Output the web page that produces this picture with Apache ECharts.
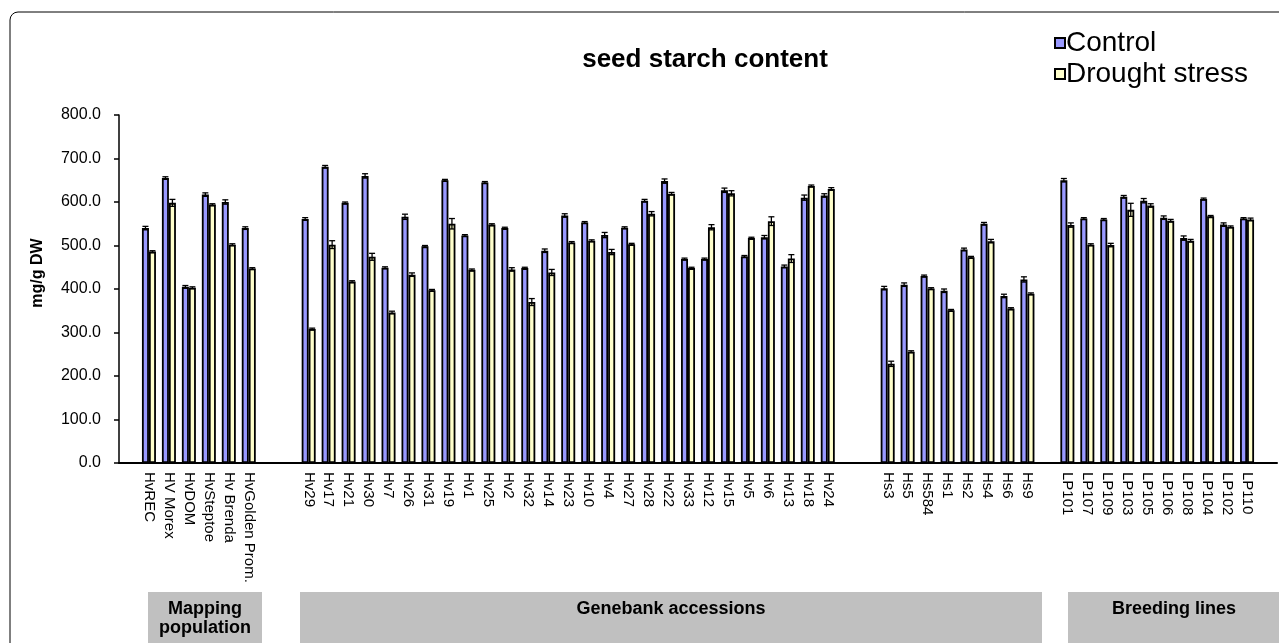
<!DOCTYPE html>
<html>
<head>
<meta charset="utf-8">
<script src="https://cdn.jsdelivr.net/npm/echarts@6/dist/echarts.min.js"></script>
<style>
  html, body { margin: 0; padding: 0; background: #fff; }
  #chart { width: 1279px; height: 643px; }
</style>
</head>
<body>
<div id="chart"></div>
<script>
// mapping population
const mapNames = ['HvREC', 'HV Morex', 'HvDOM', 'HvSteptoe', 'Hv Brenda', 'HvGolden Prom.'];
const mapCtrl = [540, 655, 405, 617, 600, 540];
const mapDrought = [486, 598, 403, 594, 502, 447];
const mapCtrlErr = [4, 3, 3, 4, 5, 3];
const mapDroughtErr = [2, 8, 2, 2, 2, 2];

// genebank accessions (H. vulgare)
const hvNames = ['Hv29', 'Hv17', 'Hv21', 'Hv30', 'Hv7', 'Hv26', 'Hv31', 'Hv19', 'Hv1', 'Hv25', 'Hv2', 'Hv32', 'Hv14', 'Hv23',
  'Hv10', 'Hv4', 'Hv27', 'Hv28', 'Hv22', 'Hv33', 'Hv12', 'Hv15', 'Hv5', 'Hv6', 'Hv13', 'Hv18', 'Hv24'];
const hvCtrl = [561, 681, 598, 660, 449, 566, 498, 650, 523, 645, 540, 448, 488, 569,
  553, 524, 541, 603, 648, 469, 469, 627, 475, 519, 452, 610, 615];
const hvDrought = [308, 502, 417, 474, 346, 433, 397, 550, 444, 548, 445, 370, 438, 507,
  511, 485, 503, 573, 619, 448, 542, 620, 517, 556, 470, 637, 630];
const hvCtrlErr = [3, 3, 2, 5, 2, 6, 2, 2, 2, 2, 2, 2, 4, 4, 2, 6, 2, 3, 5, 2, 2, 5, 2, 4, 3, 6, 4];
const hvDroughtErr = [2, 9, 2, 8, 3, 4, 2, 12, 2, 2, 4, 8, 7, 2, 2, 6, 2, 5, 3, 2, 6, 6, 2, 10, 9, 2, 3];

// genebank accessions (H. spontaneum)
const hsNames = ['Hs3', 'Hs5', 'Hs584', 'Hs1', 'Hs2', 'Hs4', 'Hs6', 'Hs9'];
const hsCtrl = [402, 410, 430, 396, 491, 550, 384, 422];
const hsDrought = [228, 256, 401, 351, 473, 510, 355, 389];
const hsCtrlErr = [4, 4, 2, 4, 3, 3, 4, 6];
const hsDroughtErr = [6, 2, 2, 2, 2, 4, 2, 2];

// breeding lines
const lpNames = ['LP101', 'LP107', 'LP109', 'LP103', 'LP105', 'LP106', 'LP108', 'LP104', 'LP102', 'LP110'];
const lpCtrl = [650, 562, 560, 612, 603, 564, 517, 607, 548, 562];
const lpDrought = [547, 502, 501, 582, 592, 557, 511, 567, 543, 560];
const lpCtrlErr = [4, 2, 2, 3, 5, 4, 5, 2, 4, 2];
const lpDroughtErr = [5, 2, 4, 15, 4, 3, 3, 2, 2, 3];

const yTicks = [0, 100, 200, 300, 400, 500, 600, 700, 800];

// empty categories make the gaps between the groups
const gap = (n) => new Array(n).fill(null);
const join = (a, b, c, d) => [null].concat(a, gap(2), b, gap(2), c, gap(1), d, gap(1));

const categories = join(mapNames, hvNames, hsNames, lpNames).map((v) => v || '');
const ctrl = join(mapCtrl, hvCtrl, hsCtrl, lpCtrl).map((v) => (v == null ? '-' : v));
const drought = join(mapDrought, hvDrought, hsDrought, lpDrought).map((v) => (v == null ? '-' : v));
const ctrlErr = join(mapCtrlErr, hvCtrlErr, hsCtrlErr, lpCtrlErr);
const droughtErr = join(mapDroughtErr, hvDroughtErr, hsDroughtErr, lpDroughtErr);

const errData = (vals, errs) => {
  const out = [];
  vals.forEach((v, i) => {
    if (v !== '-') out.push([i, v, errs[i]]);
  });
  return out;
};

const BAR_W = 7;
const errRender = (offset) => (params, api) => {
  const idx = api.value(0);
  const v = api.value(1);
  const e = api.value(2);
  const x = api.coord([idx, v])[0] + offset;
  const hi = api.coord([idx, v + e])[1];
  const lo = api.coord([idx, v - e])[1];
  const style = { stroke: '#000', lineWidth: 1.3 };
  return {
    type: 'group',
    children: [
      { type: 'line', shape: { x1: x, y1: hi, x2: x, y2: lo }, style },
      { type: 'line', shape: { x1: x - 3, y1: hi, x2: x + 3, y2: hi }, style },
      { type: 'line', shape: { x1: x - 3, y1: lo, x2: x + 3, y2: lo }, style }
    ]
  };
};

const boxFont = 'Liberation Sans Narrow, Liberation Sans, Arial';

const chart = echarts.init(document.getElementById('chart'));
const option = {
  animation: false,
  textStyle: { fontFamily: 'Liberation Sans, Arial, sans-serif', color: '#000' },
  title: {
    text: 'seed starch content',
    left: 700,
    textAlign: 'center',
    top: 42,
    textStyle: { fontSize: 26, fontWeight: 'bold', color: '#000' }
  },
  legend: {
    orient: 'vertical',
    left: 1049,
    top: 24,
    itemWidth: 10,
    itemHeight: 10,
    itemGap: 3,
    icon: 'rect',
    data: ['Control', 'Drought stress'],
    textStyle: { fontSize: 28, color: '#000', padding: [0, 0, 0, -4] }
  },
  grid: { left: 119, right: 2, top: 115, bottom: 180 },
  xAxis: {
    type: 'category',
    data: categories,
    axisLine: { lineStyle: { color: '#000', width: 2 } },
    axisTick: {
      length: 4,
      interval: 0,
      lineStyle: { color: '#000', width: 1.5 }
    },
    axisLabel: {
      interval: 0,
      rotate: -90,
      fontSize: 15,
      color: '#000',
      margin: 9
    }
  },
  yAxis: {
    type: 'value',
    min: yTicks[0],
    max: yTicks[yTicks.length - 1],
    interval: 100,
    axisLine: { show: true, lineStyle: { color: '#000', width: 1.5 } },
    axisTick: { show: true, length: 5, lineStyle: { color: '#000', width: 1.5 } },
    splitLine: { show: false },
    axisLabel: {
      fontSize: 16,
      color: '#000',
      margin: 18,
      formatter: (v) => v.toFixed(1)
    }
  },
  series: [
    {
      name: 'Control',
      type: 'bar',
      data: ctrl,
      barWidth: BAR_W,
      barGap: '0%',
      itemStyle: { color: '#9999FF', borderColor: '#000', borderWidth: 1.8 }
    },
    {
      name: 'Drought stress',
      type: 'bar',
      data: drought,
      barWidth: BAR_W,
      barGap: '0%',
      itemStyle: { color: '#FFFFCC', borderColor: '#000', borderWidth: 1.8 }
    },
    {
      type: 'custom',
      data: errData(ctrl, ctrlErr),
      renderItem: errRender(-BAR_W / 2),
      silent: true,
      z: 5
    },
    {
      type: 'custom',
      data: errData(drought, droughtErr),
      renderItem: errRender(BAR_W / 2),
      silent: true,
      z: 5
    }
  ],
  graphic: [
    {
      type: 'rect',
      shape: { x: 10, y: 12, width: 1300, height: 700, r: 8 },
      style: { fill: 'none', stroke: '#000', lineWidth: 1 },
      silent: true
    },
    {
      type: 'text',
      x: 38,
      y: 273,
      rotation: Math.PI / 2,
      style: { text: 'mg/g DW', fontSize: 16, fontWeight: 'bold', align: 'center', verticalAlign: 'middle', fill: '#000', fontFamily: 'Liberation Sans, Arial' }
    },
    {
      type: 'group',
      children: [
        { type: 'rect', shape: { x: 148, y: 592, width: 114, height: 60 }, style: { fill: '#C0C0C0' } },
        { type: 'rect', shape: { x: 300, y: 592, width: 742, height: 60 }, style: { fill: '#C0C0C0' } },
        { type: 'rect', shape: { x: 1068, y: 592, width: 211, height: 60 }, style: { fill: '#C0C0C0' } },
        {
          type: 'text', x: 205, y: 600,
          style: { text: 'Mapping\npopulation', fontSize: 18, fontWeight: 'bold', lineHeight: 19, align: 'center', fill: '#000', fontFamily: boxFont }
        },
        {
          type: 'text', x: 671, y: 600,
          style: { text: 'Genebank accessions', fontSize: 18, fontWeight: 'bold', align: 'center', fill: '#000', fontFamily: boxFont }
        },
        {
          type: 'text', x: 1174, y: 600,
          style: { text: 'Breeding lines', fontSize: 18, fontWeight: 'bold', align: 'center', fill: '#000', fontFamily: boxFont }
        }
      ]
    }
  ]
};
chart.setOption(option);
</script>
</body>
</html>
